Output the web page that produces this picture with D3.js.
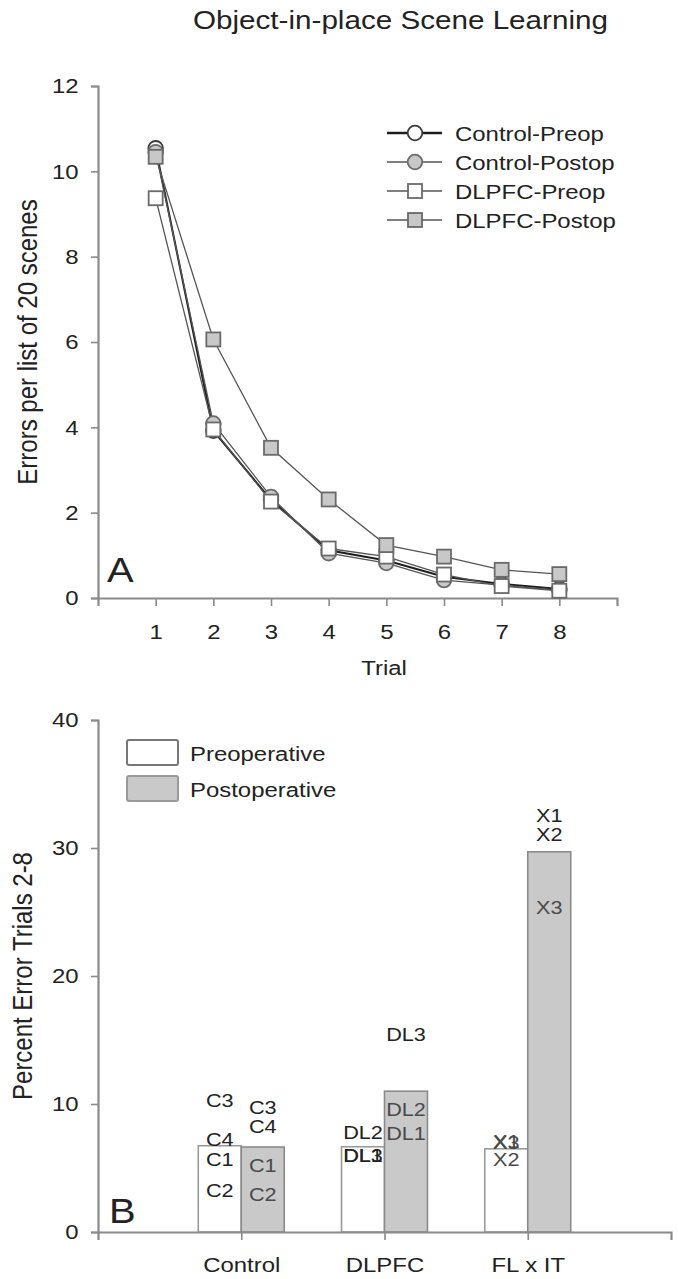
<!DOCTYPE html>
<html>
<head>
<meta charset="utf-8">
<script src="https://cdn.jsdelivr.net/npm/d3@7/dist/d3.min.js"></script>
<style>
  body { margin: 0; background: #fff; }
  svg { display: block; }
  text { font-family: "Liberation Sans", Arial, Helvetica, sans-serif; fill: #222; }
</style>
</head>
<body>
<div id="chart"></div>
<script>
// ---- data: panel A (errors per list, trials 1-8) ----
const trials = [1, 2, 3, 4, 5, 6, 7, 8];
const controlPreop  = [10.54, 3.92, 2.30, 1.12, 0.88, 0.50, 0.33, 0.21];
const controlPostop = [10.45, 4.09, 2.37, 1.05, 0.82, 0.42, 0.30, 0.18];
const dlpfcPreop    = [9.37, 3.95, 2.26, 1.16, 0.97, 0.55, 0.28, 0.17];
const dlpfcPostop   = [10.34, 6.06, 3.52, 2.31, 1.24, 0.97, 0.66, 0.56];
const seriesNames = ['Control-Preop', 'Control-Postop', 'DLPFC-Preop', 'DLPFC-Postop'];
const yTicksA = [0, 2, 4, 6, 8, 10, 12];

// ---- data: panel B (percent error trials 2-8) ----
const groups = ['Control', 'DLPFC', 'FL x IT'];
const preopMeans  = [6.74, 6.66, 6.5];
const postopMeans = [6.64, 11.0, 29.7];
const phaseNames = ['Preoperative', 'Postoperative'];
const yTicksB = [0, 10, 20, 30, 40];
// individual animals
const subjectGroup = ['Control', 'Control', 'Control', 'Control', 'Control', 'Control', 'Control', 'Control',
                      'DLPFC', 'DLPFC', 'DLPFC', 'DLPFC', 'DLPFC', 'DLPFC',
                      'FL x IT', 'FL x IT', 'FL x IT', 'FL x IT', 'FL x IT', 'FL x IT'];
const subjectPhase = ['pre', 'pre', 'pre', 'pre', 'post', 'post', 'post', 'post',
                      'pre', 'pre', 'pre', 'post', 'post', 'post',
                      'pre', 'pre', 'pre', 'post', 'post', 'post'];
const subjectName  = ['C3', 'C4', 'C1', 'C2', 'C3', 'C4', 'C1', 'C2',
                      'DL2', 'DL1', 'DL3', 'DL3', 'DL2', 'DL1',
                      'X1', 'X3', 'X2', 'X1', 'X2', 'X3'];
const subjectScore = [10.3, 7.3, 5.7, 3.3, 9.8, 8.3, 5.2, 3.0,
                      7.8, 6.0, 6.0, 15.5, 9.6, 7.7,
                      7.1, 7.05, 5.7, 32.6, 31.1, 25.4];

const W = 678, H = 1279;
const SX = 1.14; // reference glyphs are a little wider than Arial

const svg = d3.select('#chart').append('svg')
    .attr('width', W)
    .attr('height', H)
    .attr('viewBox', [0, 0, W, H]);

// text helper: places text with the horizontal widening
function addText(g, x, y, str, size, anchor, rotate) {
    const t = g.append('text')
        .attr('text-anchor', anchor || 'start')
        .style('font-size', size + 'px')
        .text(str);
    if (rotate) t.attr('transform', `translate(${x},${y}) rotate(-90) scale(1,${SX})`);
    else t.attr('transform', `translate(${x},${y}) scale(${SX},1)`);
    return t;
}

function styleAxis(g) {
    g.select('.domain').attr('stroke', '#8a8a8a').attr('stroke-width', 2.2);
    g.selectAll('.tick line').attr('stroke', '#8a8a8a').attr('stroke-width', 1.6);
    g.selectAll('.tick text')
        .style('font-size', '21px')
        .attr('fill', '#222')
        .style('font-family', '"Liberation Sans", Arial, sans-serif');
}

// title
addText(svg, 193, 29, 'Object-in-place Scene Learning', 26, 'start');

// ================= Panel A =================
const xA = d3.scaleLinear().domain([0, 9]).range([98, 617]);
const yA = d3.scaleLinear().domain([0, 12]).range([598, 86]);

const gA = svg.append('g');

gA.append('g')
    .attr('transform', `translate(0,${yA(0)})`)
    .call(d3.axisBottom(xA).tickValues(trials).tickFormat(d3.format('d')).tickSizeOuter(0).tickSize(8).tickPadding(18))
    .call(styleAxis)
    .call(g => g.selectAll('.tick text').attr('transform', `scale(${SX},1)`));

gA.append('g')
    .attr('transform', `translate(${xA(0)},0)`)
    .call(d3.axisLeft(yA).tickValues(yTicksA).tickSizeOuter(0).tickSize(7).tickPadding(10))
    .call(styleAxis)
    .call(g => g.selectAll('.tick text').attr('transform', `scale(${SX},1)`));

addText(gA, 37, (yA(0) + yA(12)) / 2, 'Errors per list of 20 scenes', 24, 'middle', true);
addText(gA, 384, 675, 'Trial', 21, 'middle');
addText(gA, 107, 582, 'A', 35, 'start');

const seriesA = [
    { name: seriesNames[0], values: controlPreop,  shape: 'circle', fill: '#ffffff', stroke: '#3a3a3a', line: '#1e1e1e', lw: 2.0 },
    { name: seriesNames[1], values: controlPostop, shape: 'circle', fill: '#c8c8c8', stroke: '#6a6a6a', line: '#555', lw: 1.3 },
    { name: seriesNames[2], values: dlpfcPreop,    shape: 'square', fill: '#ffffff', stroke: '#6a6a6a', line: '#555', lw: 1.3 },
    { name: seriesNames[3], values: dlpfcPostop,   shape: 'square', fill: '#c8c8c8', stroke: '#6a6a6a', line: '#555', lw: 1.3 }
];

const line = d3.line()
    .x((d, i) => xA(trials[i]))
    .y(d => yA(d));

function drawMarker(g, s, cx, cy) {
    if (s.shape === 'circle') {
        g.append('circle')
            .attr('cx', cx).attr('cy', cy).attr('r', 7.3)
            .attr('fill', s.fill).attr('stroke', s.stroke).attr('stroke-width', 1.8);
    } else {
        g.append('rect')
            .attr('x', cx - 7).attr('y', cy - 7).attr('width', 14).attr('height', 14)
            .attr('fill', s.fill).attr('stroke', s.stroke).attr('stroke-width', 1.8);
    }
}

seriesA.forEach(s => {
    gA.append('path')
        .attr('d', line(s.values))
        .attr('fill', 'none')
        .attr('stroke', s.line)
        .attr('stroke-width', s.lw);
});
seriesA.forEach(s => {
    s.values.forEach((v, i) => drawMarker(gA, s, xA(trials[i]), yA(v)));
});

// legend A
const legA = gA.append('g');
seriesA.forEach((s, i) => {
    const cy = 133 + i * 29;
    legA.append('line')
        .attr('x1', 387).attr('x2', 442).attr('y1', cy).attr('y2', cy)
        .attr('stroke', s.line).attr('stroke-width', s.lw + 0.4);
    drawMarker(legA, s, 415, cy);
    addText(legA, 455, cy + 7.5, s.name, 21, 'start');
});

// ================= Panel B =================
const xB = d3.scalePoint().domain(groups).range([98, 671]).padding(1);
const yB = d3.scaleLinear().domain([0, 40]).range([1232, 720]);
const bw = xB.step() * 0.3;

const gB = svg.append('g');

const barData = [];
groups.forEach((grp, i) => {
    barData.push({ group: grp, phase: 'pre', value: preopMeans[i] });
    barData.push({ group: grp, phase: 'post', value: postopMeans[i] });
});

gB.selectAll('rect.bar')
    .data(barData)
    .join('rect')
    .attr('class', 'bar')
    .attr('x', d => d.phase === 'pre' ? xB(d.group) - bw : xB(d.group))
    .attr('y', d => yB(d.value))
    .attr('width', bw)
    .attr('height', d => yB(0) - yB(d.value))
    .attr('fill', d => d.phase === 'pre' ? '#ffffff' : '#c9c9c9')
    .attr('stroke', d => d.phase === 'pre' ? '#9a9a9a' : '#8a8a8a')
    .attr('stroke-width', 1.6);

gB.append('g')
    .attr('transform', `translate(0,${yB(0)})`)
    .call(d3.axisBottom(xB).tickSizeOuter(0).tickSize(8).tickPadding(17))
    .call(styleAxis)
    .call(g => g.selectAll('.tick text').attr('transform', `scale(${SX},1)`));

gB.append('g')
    .attr('transform', `translate(${xB.range()[0]},0)`)
    .call(d3.axisLeft(yB).tickValues(yTicksB).tickSizeOuter(0).tickSize(7).tickPadding(10))
    .call(styleAxis)
    .call(g => g.selectAll('.tick text').attr('transform', `scale(${SX},1)`));

addText(gB, 32, (yB(0) + yB(40)) / 2, 'Percent Error Trials 2-8', 24, 'middle', true);
addText(gB, 109, 1223, 'B', 35, 'start');

// subject labels
subjectName.forEach((nm, i) => {
    const grp = subjectGroup[i];
    const ph = subjectPhase[i];
    const gi = groups.indexOf(grp);
    const cx = ph === 'pre' ? xB(grp) - bw / 2 : xB(grp) + bw / 2;
    const inside = ph === 'post' && subjectScore[i] < postopMeans[gi];
    const t = addText(gB, cx, yB(subjectScore[i]) + 7, nm, 19, 'middle');
    if (inside || grp === 'FL x IT' && ph === 'pre') t.style('fill', '#4a4a4a');
});

// legend B
const legB = gB.append('g');
phaseNames.forEach((p, i) => {
    const y0 = 740 + i * 36;
    legB.append('rect')
        .attr('x', 127).attr('y', y0).attr('width', 51).attr('height', 25)
        .attr('rx', 2)
        .attr('fill', i === 0 ? '#ffffff' : '#c9c9c9')
        .attr('stroke', i === 0 ? '#777' : '#999')
        .attr('stroke-width', 2);
    addText(legB, 190, y0 + 21, p, 21, 'start');
});
</script>
</body>
</html>
